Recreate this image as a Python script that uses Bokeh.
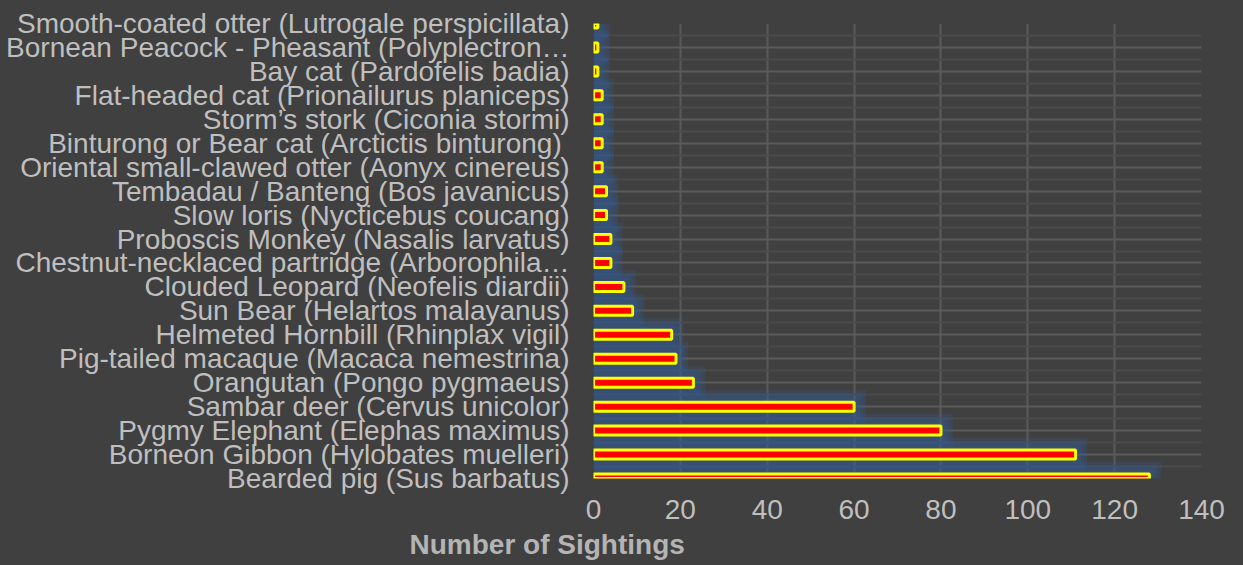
from bokeh.plotting import figure
from bokeh.models import Range1d, FixedTicker, Title
from bokeh.embed import file_html
from bokeh.resources import INLINE

# ---- data (top to bottom as shown) ----
species = [
    "Smooth-coated otter (Lutrogale perspicillata)",
    "Bornean Peacock - Pheasant (Polyplectron\u2026",
    "Bay cat (Pardofelis badia)",
    "Flat-headed cat (Prionailurus planiceps)",
    "Storm\u2019s stork (Ciconia stormi)",
    "Binturong or Bear cat (Arctictis binturong)\u00a0",
    "Oriental small-clawed otter (Aonyx cinereus)",
    "Tembadau / Banteng (Bos javanicus)",
    "Slow loris (Nycticebus coucang)",
    "Proboscis Monkey (Nasalis larvatus)",
    "Chestnut-necklaced partridge (Arborophila\u2026",
    "Clouded Leopard (Neofelis diardii)",
    "Sun Bear (Helartos malayanus)",
    "Helmeted Hornbill (Rhinplax vigil)",
    "Pig-tailed macaque (Macaca nemestrina)",
    "Orangutan (Pongo pygmaeus)",
    "Sambar deer (Cervus unicolor)",
    "Pygmy Elephant (Elephas maximus)",
    "Borneon Gibbon (Hylobates muelleri)",
    "Bearded pig (Sus barbatus)",
]
sightings = [1, 1, 1, 2, 2, 2, 2, 3, 3, 4, 4, 7, 9, 18, 19, 23, 60, 80, 111, 128]
x_ticks = [0, 20, 40, 60, 80, 100, 120, 140]
x_title = "Number of Sightings"

n = len(species)
ypos = [n - 1 - i for i in range(n)]  # top item highest

W, H = 1243, 565
left, right, top, bottom = 593, 42, 23, 87
frame_w = W - left - right
frame_h = H - top - bottom
xmax = x_ticks[-1]
px_x = xmax / frame_w
px_y = (n - 1) / frame_h

BG = "#404040"
p = figure(width=W, height=H, output_backend="svg", toolbar_location=None,
           x_range=Range1d(0, xmax), y_range=Range1d(0, n - 1),
           min_border_left=left, min_border_right=right,
           min_border_top=top, min_border_bottom=bottom)
p.background_fill_color = BG
p.border_fill_color = BG
p.outline_line_color = None

# grid
p.xaxis.ticker = FixedTicker(ticks=x_ticks)
p.yaxis.ticker = FixedTicker(ticks=list(range(n)),
                             minor_ticks=[k + 0.5 for k in range(n - 1)])
p.xgrid.grid_line_color = "#5a5a5a"
p.xgrid.grid_line_width = 2
p.ygrid.grid_line_color = "#5a5a5a"
p.ygrid.grid_line_width = 2
p.ygrid.minor_grid_line_color = "#4b4b4b"
p.ygrid.minor_grid_line_width = 2

# glow
bar_h = 9 * px_y
for pad in [12, 9, 6, 3]:
    p.hbar(y=ypos, left=[-pad * px_x] * n, right=[v + pad * px_x for v in sightings],
           height=bar_h + 2 * pad * px_y, fill_color="#2f5f9f", fill_alpha=0.19,
           line_color=None)

# bars
p.hbar(y=ypos, left=0, right=sightings, height=bar_h,
       fill_color="#ff0000", line_color="#ffff00", line_width=3)

# axes
font = "Liberation Sans"
for ax in (p.xaxis[0], p.yaxis[0]):
    ax.axis_line_color = None
    ax.major_tick_line_color = None
    ax.minor_tick_line_color = None
    ax.major_label_text_font = font
    ax.major_label_text_font_size = "28px"
    ax.major_label_text_color = "#bfbfbf"
p.yaxis.major_label_overrides = {ypos[i]: species[i] for i in range(n)}
p.yaxis.major_label_standoff = 18
p.xaxis.major_label_standoff = 15

p.add_layout(Title(text=x_title, align="left", offset=409 - left, standoff=10,
                   text_font=font, text_font_size="28px", text_font_style="bold",
                   text_color="#b4b4b4"), "below")

html = file_html(p, INLINE)
html = html.replace("</head>", "<style>html,body{background:#404040;}</style></head>", 1)
open("out.html", "w").write(html)
